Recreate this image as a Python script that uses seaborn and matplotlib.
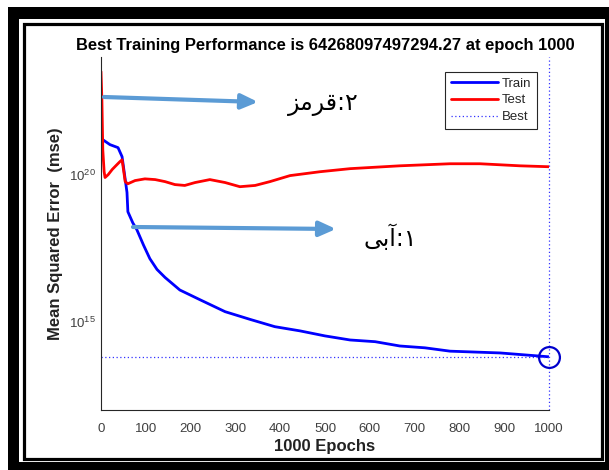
import matplotlib
matplotlib.use("Agg")
import matplotlib.pyplot as plt
from matplotlib.patches import Rectangle
from matplotlib.lines import Line2D
import seaborn as sns
import pandas as pd

# ---------------- data ----------------
train_epochs = [0, 20, 38, 47, 51, 58, 60, 71, 80, 95, 109, 125, 143, 176, 221, 277, 333,
                388, 444, 500, 556, 612, 667, 723, 779, 891, 1000]
train_mse = [1.7e21, 1.05e21, 8.3e20, 4.1e20, 1.5e20, 2.5e19, 5.5e18, 2.3e18, 1.35e18,
             4.0e17, 1.4e17, 6.0e16, 3.2e16, 1.2e16, 5.6e15, 2.2e15, 1.2e15, 6.8e14,
             4.9e14, 3.3e14, 2.4e14, 2.1e14, 1.5e14, 1.3e14, 1.0e14, 8.7e13, 6.4268e13]
test_epochs = [0, 2, 4, 7, 9, 16, 25, 33, 42, 47, 49, 54, 60, 76, 98, 121, 143, 165,
               187, 210, 243, 277, 310, 344, 377, 422, 489, 556, 667, 779, 846, 935, 1000]
test_mse = [3.2e23, 3.5e22, 7e20, 1.26e20, 8e19, 1.0e20, 1.5e20, 2.0e20, 2.75e20, 3.2e20,
            2.0e20, 5.8e19, 4.9e19, 6.3e19, 7.2e19, 6.8e19, 5.8e19, 4.6e19, 4.3e19, 5.4e19,
            6.8e19, 5.4e19, 3.9e19, 4.3e19, 5.8e19, 9.3e19, 1.26e20, 1.6e20, 2.0e20,
            2.35e20, 2.35e20, 2.0e20, 1.86e20]
best_epoch = 1000
best_perf = 64268097497294.27
x_ticks = list(range(0, 1001, 100))
y_ticks = [1e15, 1e20]
legend_labels = ["Train", "Test", "Best"]
title_text = "Best Training Performance is 64268097497294.27 at epoch 1000"
x_label = "1000 Epochs"
y_label = "Mean Squared Error  (mse)"
note_red = "\ufeb0\ufee3\ufeae\ufed7:\u06f2"    # ۲:قرمز (visual order)
note_blue = "\ufef0\ufe91\ufe81:\u06f1"         # ۱:آبی (visual order)

# ---------------- style ----------------
sns.set_style("white")
plt.rcParams["font.family"] = ["Liberation Sans", "DejaVu Sans"]

W, H = 609, 470
fig = plt.figure(figsize=(W / 100, H / 100), dpi=100)
fig.patch.set_facecolor("white")

def fx(x):
    return x / W

def fy(y):
    return 1 - y / H

# frame
fig.patches.append(Rectangle((fx(8), 0), 1 - fx(8), fy(7), transform=fig.transFigure,
                             facecolor="black", edgecolor="none", zorder=-30))
fig.patches.append(Rectangle((fx(19), fy(462)), fx(605) - fx(19), fy(19) - fy(462),
                             transform=fig.transFigure, facecolor="white",
                             edgecolor="none", zorder=-20))
fig.patches.append(Rectangle((fx(23.5), fy(458.5)), fx(602) - fx(23.5), fy(23.5) - fy(458.5),
                             transform=fig.transFigure, facecolor="none",
                             edgecolor="black", lw=2.3, zorder=-10))

ax = fig.add_axes([fx(101), fy(410), fx(549) - fx(101), fy(57) - fy(410)])
ax.set_facecolor("none")

train_df = pd.DataFrame({"epoch": train_epochs, "mse": train_mse})
test_df = pd.DataFrame({"epoch": test_epochs, "mse": test_mse})

sns.lineplot(data=train_df, x="epoch", y="mse", ax=ax, color="#0000ff", lw=2.0,
             sort=False, label=legend_labels[0])
sns.lineplot(data=test_df, x="epoch", y="mse", ax=ax, color="#ff0000", lw=2.0,
             sort=False, label=legend_labels[1])
ax.axhline(best_perf, color="#3333ff", lw=0.9, ls=(0, (1, 2)), label=legend_labels[2])
ax.axvline(best_epoch, color="#3333ff", lw=0.9, ls=(0, (1, 2)), clip_on=False)
ax.plot([best_epoch], [best_perf], "o", ms=15, mfc="none", mec="#0000cc", mew=1.6,
        clip_on=False)

ax.set_yscale("log")
ax.set_xlim(0, 1000)
ax.set_ylim(1e12, 1e24)
ax.set_xticks(x_ticks)
ax.set_yticks(y_ticks)
ax.minorticks_off()

for s in ["top", "right"]:
    ax.spines[s].set_visible(False)
for s in ["left", "bottom"]:
    ax.spines[s].set_color("#262626")
    ax.spines[s].set_linewidth(0.8)
ax.tick_params(axis="both", direction="in", length=4, width=0.7, color="#262626",
               labelcolor="#404040", labelsize=9.5)
ax.tick_params(axis="x", pad=9)
ax.tick_params(axis="y", pad=4)

ax.set_title(title_text, fontsize=11.9, fontweight="bold", pad=5, color="black")
ax.set_xlabel(x_label, fontsize=12, fontweight="bold", labelpad=3, color="#222222")
ax.set_ylabel(y_label, fontsize=12, fontweight="bold", labelpad=4, color="#222222")

handles = [Line2D([], [], color="#0000ff", lw=2.0),
           Line2D([], [], color="#ff0000", lw=2.0),
           Line2D([], [], color="#3333ff", lw=0.9, ls=(0, (1, 2)))]
leg = ax.legend(handles, legend_labels, loc="upper right",
                bbox_to_anchor=((537 - 101) / 448, (410 - 72) / 353),
                borderaxespad=0, fancybox=False, framealpha=1, fontsize=9.5,
                handlelength=3.6, handletextpad=0.3, labelspacing=0.35,
                borderpad=0.4)
leg.get_frame().set_edgecolor("#262626")
leg.get_frame().set_linewidth(0.8)

# annotations
arrow_props = dict(arrowstyle="-|>,head_length=1.0,head_width=0.45", color="#5B9BD5",
                   lw=3, shrinkA=0, shrinkB=0)
ax.annotate("", xy=(fx(258), fy(102)), xytext=(fx(104), fy(97)),
            xycoords="figure fraction", textcoords="figure fraction",
            arrowprops=arrow_props)
ax.annotate("", xy=(fx(336), fy(229)), xytext=(fx(133), fy(227)),
            xycoords="figure fraction", textcoords="figure fraction",
            arrowprops=arrow_props)
fig.text(fx(323), fy(104), note_red, fontsize=17, ha="center", va="center",
         family=["DejaVu Sans"], color="black")
fig.text(fx(390), fy(238), note_blue, fontsize=17, ha="center", va="center",
         family=["DejaVu Sans"], color="black")

fig.savefig("out.png", dpi=100, facecolor="white")
